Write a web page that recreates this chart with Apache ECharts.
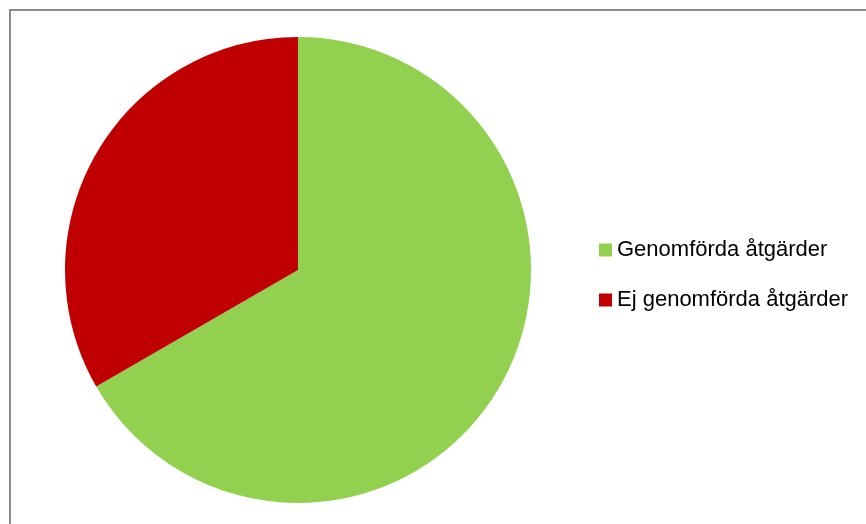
<!DOCTYPE html>
<html>
<head>
<meta charset="utf-8">
<style>
html,body{margin:0;padding:0;background:#fff;}
#chart{width:866px;height:524px;}
</style>
<script src="https://cdn.jsdelivr.net/npm/echarts@6/dist/echarts.min.js"></script>
</head>
<body>
<div id="chart"></div>
<script>
const categories = ['Genomförda åtgärder', 'Ej genomförda åtgärder'];
const values = [2, 1];
const colors = ['#92D050', '#C00000'];

const chart = echarts.init(document.getElementById('chart'), null, {renderer: 'canvas'});
chart.setOption({
  animation: false,
  backgroundColor: '#ffffff',
  graphic: [{
    type: 'rect',
    shape: {x: 10, y: 10, width: 900, height: 600},
    style: {fill: 'none', stroke: '#8c8c8c', lineWidth: 2},
    silent: true
  }],
  legend: {
    orient: 'vertical',
    left: 594,
    top: 234,
    padding: 5,
    itemWidth: 13,
    itemHeight: 13,
    itemGap: 28,
    icon: 'rect',
    data: categories,
    textStyle: {
      fontFamily: 'Liberation Sans',
      fontSize: 22,
      lineHeight: 22,
      color: '#000000'
    }
  },
  series: [{
    type: 'pie',
    center: [298, 270],
    radius: [0, 233],
    startAngle: 90,
    clockwise: true,
    label: {show: false},
    labelLine: {show: false},
    emphasis: {disabled: true},
    itemStyle: {borderWidth: 0},
    data: categories.map((c, i) => ({name: c, value: values[i], itemStyle: {color: colors[i]}}))
  }]
});
</script>
</body>
</html>
